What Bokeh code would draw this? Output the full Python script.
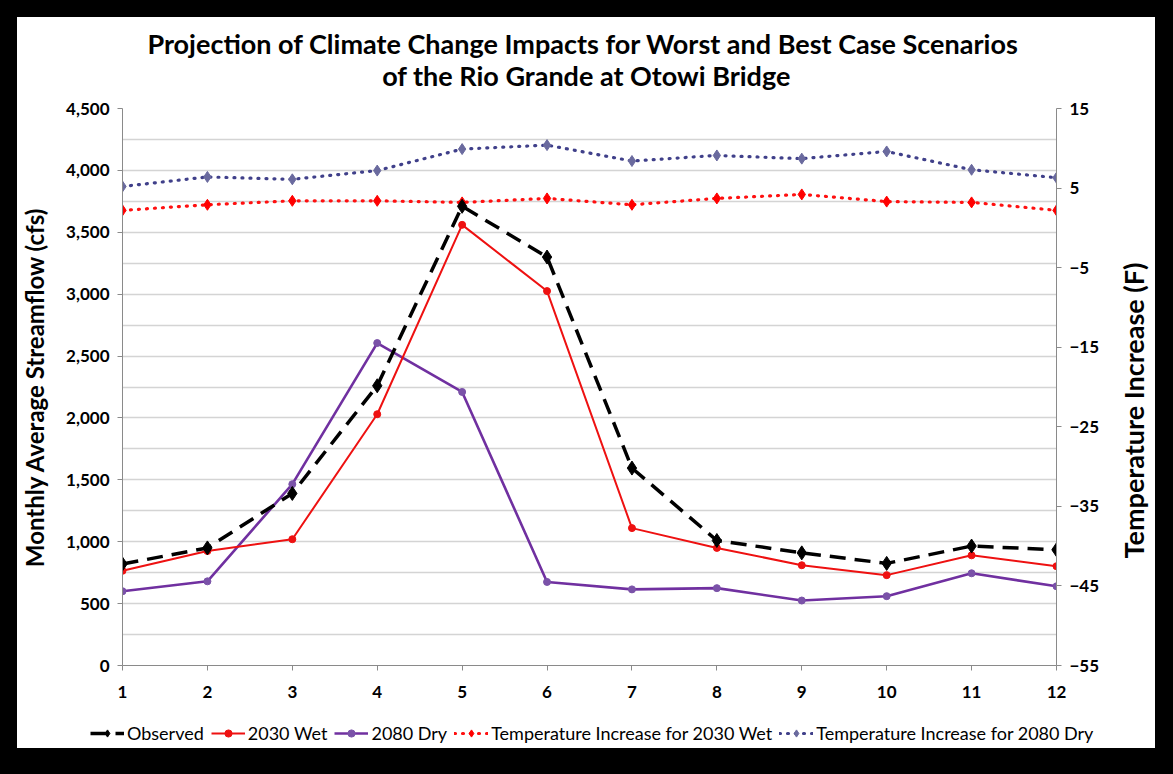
import math
from bokeh.plotting import figure
from bokeh.layouts import column, row
from bokeh.models import (Range1d, LinearAxis, FixedTicker, Legend, LegendItem,
                          NumeralTickFormatter, ColumnDataSource, Label, Plot,
                          Line, Scatter)
from bokeh.embed import file_html
from bokeh.resources import INLINE

# ---------------- data ----------------
months = [1, 2, 3, 4, 5, 6, 7, 8, 9, 10, 11, 12]
observed = [820, 950, 1390, 2260, 3710, 3300, 1595, 1010, 910, 825, 965, 935]
wet_2030 = [765, 925, 1020, 2030, 3560, 3025, 1110, 950, 810, 730, 890, 802]
dry_2080 = [600, 680, 1465, 2605, 2210, 675, 615, 625, 525, 560, 745, 640]
temp_wet_2030 = [2.2, 2.9, 3.4, 3.4, 3.2, 3.7, 2.9, 3.7, 4.2, 3.3, 3.2, 2.2]
temp_dry_2080 = [5.2, 6.4, 6.1, 7.2, 9.9, 10.4, 8.4, 9.1, 8.7, 9.6, 7.3, 6.3]

left_ticks = [0, 500, 1000, 1500, 2000, 2500, 3000, 3500, 4000, 4500]
grid_ticks = [0, 250, 500, 750, 1000, 1250, 1500, 1750, 2000, 2250, 2500, 2750,
              3000, 3250, 3500, 3750, 4000, 4250, 4500]
right_ticks = [15, 5, -5, -15, -25, -35, -45, -55]

title_line1 = "Projection of Climate Change Impacts for Worst and Best Case  Scenarios"
title_line2 = "of the Rio Grande at Otowi Bridge"
left_label = "Monthly Average Streamflow (cfs)"
right_label = "Temperature Increase (F)"
series_names = ["Observed", "2030 Wet", "2080 Dry",
                "Temperature Increase for 2030 Wet", "Temperature Increase for 2080 Dry"]

FONT = "Lato"


def helper_plot(w, h):
    hp = Plot(width=w, height=h, x_range=Range1d(0, w), y_range=Range1d(0, h),
              toolbar_location=None, output_backend="svg", title=None,
              min_border_left=0, min_border_right=0, min_border_top=0,
              min_border_bottom=0)
    hp.outline_line_color = None
    hp.background_fill_color = "white"
    hp.border_fill_color = "white"
    try:
        hp.frame_align = False
    except Exception:
        pass
    return hp


# ---------------- title strip ----------------
tf = helper_plot(1138, 81)
tf.add_layout(Label(x=569, y=55, text=title_line1, text_font=FONT,
                    text_font_size="27px", text_font_style="bold", text_color="black",
                    text_align="center", text_baseline="middle"))
tf.add_layout(Label(x=569, y=23, text=title_line2, text_font=FONT,
                    text_font_size="27px", text_font_style="bold", text_color="black",
                    text_align="center", text_baseline="middle"))

# ---------------- main chart ----------------
p = figure(width=1095, height=619, output_backend="svg", toolbar_location=None,
           x_range=Range1d(1, 12), y_range=Range1d(0, 4500), title=None,
           min_border_left=105, min_border_right=56, min_border_top=10,
           min_border_bottom=52)
p.background_fill_color = "white"
p.border_fill_color = "white"
p.outline_line_color = None
p.extra_y_ranges = {"temp": Range1d(-55, 15)}

p.xgrid.grid_line_color = None
p.ygrid.ticker = FixedTicker(ticks=grid_ticks)
p.ygrid.grid_line_color = "#d4d4d4"
p.ygrid.grid_line_width = 1.5


def style_axis(ax):
    ax.axis_line_color = "#8a8a8a"
    ax.major_tick_line_color = "#8a8a8a"
    ax.major_tick_out = 5
    ax.major_tick_in = 0
    ax.minor_tick_line_color = None
    ax.major_label_text_font = FONT
    ax.major_label_text_font_size = "17px"
    ax.major_label_text_color = "black"
    ax.major_label_text_font_style = "bold"
    ax.axis_label_text_font = FONT
    ax.axis_label_text_font_style = "bold"
    ax.axis_label_text_color = "black"


xa = p.xaxis[0]
style_axis(xa)
xa.ticker = FixedTicker(ticks=months)
xa.major_label_standoff = 15

ya = p.yaxis[0]
style_axis(ya)
ya.ticker = FixedTicker(ticks=left_ticks)
ya.formatter = NumeralTickFormatter(format="0,0")
ya.major_label_standoff = 8
ya.axis_label = left_label
ya.axis_label_text_font_size = "24px"
ya.axis_label_standoff = 14

ra = LinearAxis(y_range_name="temp", ticker=FixedTicker(ticks=right_ticks))
style_axis(ra)
ra.major_label_standoff = 8
p.add_layout(ra, "right")

styles = [
    dict(line=dict(line_color="black", line_width=3.5, line_dash="16 9"),
         mark=dict(marker="diamond", size=14, fill_color="black", line_color="black")),
    dict(line=dict(line_color="#ee1111", line_width=2),
         mark=dict(marker="circle", size=7, fill_color="#ee1111", line_color="#ee1111")),
    dict(line=dict(line_color="#7030a0", line_width=2.6),
         mark=dict(marker="circle", size=7, fill_color="#7a52a8", line_color="#7a52a8")),
    dict(line=dict(line_color="#ff1010", line_width=3.2, line_dash="1 7", line_cap="round"),
         mark=dict(marker="diamond", size=11, fill_color="#ff0000", line_color="#ff0000")),
    dict(line=dict(line_color="#40408a", line_width=3.2, line_dash="1 7", line_cap="round"),
         mark=dict(marker="diamond", size=11, fill_color="#6a6a9e", line_color="#6a6a9e")),
]

src = ColumnDataSource(dict(x=months, obs=observed, wet=wet_2030, dry=dry_2080,
                            tw=temp_wet_2030, td=temp_dry_2080))
cols = ["obs", "wet", "dry", "tw", "td"]
draw_order = [3, 4, 2, 1, 0]
for i in draw_order:
    kw = {"y_range_name": "temp"} if i >= 3 else {}
    p.line("x", cols[i], source=src, **styles[i]["line"], **kw)
    p.scatter("x", cols[i], source=src, **styles[i]["mark"], **kw)

# ---------------- right title strip (reads bottom-to-top) ----------------
rf = helper_plot(43, 619)
rf.add_layout(Label(x=21, y=307, text=right_label, text_font=FONT,
                    text_font_size="27px", text_font_style="bold", text_color="black",
                    text_align="center", text_baseline="middle", angle=math.pi / 2))

# ---------------- legend strip ----------------
# legend renderers use the same data but lie outside this strip's ranges
lg = helper_plot(1138, 31)
lg.x_range = Range1d(100, 101)
lg.y_range = Range1d(100000, 100001)
items = []
for i, name in enumerate(series_names):
    r1 = lg.add_glyph(src, Line(x="x", y=cols[i], **styles[i]["line"]))
    r2 = lg.add_glyph(src, Scatter(x="x", y=cols[i], **styles[i]["mark"]))
    items.append(LegendItem(label=name, renderers=[r1, r2]))
legend = Legend(items=items, orientation="horizontal", location=(73, 4))
legend.background_fill_alpha = 0
legend.border_line_color = None
legend.label_text_font = FONT
legend.label_text_font_size = "18px"
legend.label_text_color = "black"
legend.glyph_width = 34
legend.glyph_height = 18
legend.label_standoff = 3
legend.spacing = 7
legend.padding = 0
legend.margin = 0
lg.add_layout(legend, "center")

mid = row(p, rf, spacing=0, styles={"background-color": "white"})
layout = column(tf, mid, lg, spacing=0, styles={"background-color": "white"})

TPL = """
{% block postamble %}
<style>html, body { background: #000000; } body { margin: 17px !important; padding: 0 !important; }</style>
{% endblock %}
"""

open("out.html", "w").write(file_html(layout, INLINE, template=TPL))
